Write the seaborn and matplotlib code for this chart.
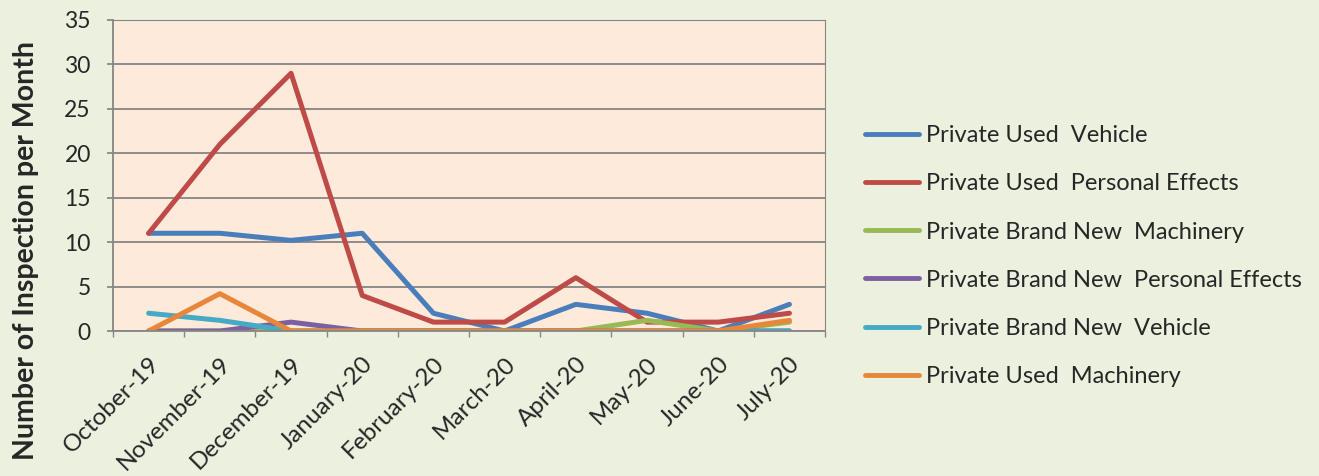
import matplotlib
matplotlib.use("Agg")
import matplotlib.pyplot as plt
import seaborn as sns
import pandas as pd
import numpy as np

months = ["October-19", "November-19", "December-19", "January-20", "February-20",
          "March-20", "April-20", "May-20", "June-20", "July-20"]
used_vehicle = [11, 11, 10.2, 11, 2, 0, 3, 2, 0, 3]
used_personal = [11, 21, 29, 4, 1, 1, 6, 1, 1, 2]
bn_machinery = [0, 0, 0, 0, 0, 0, 0, 1.2, 0, 1]
bn_personal = [0, 0, 1, 0, 0, 0, 0, 0, 0, 0]
bn_vehicle = [2, 1.2, 0, 0, 0, 0, 0, 0, 0, 0]
used_machinery = [0, 4.2, 0, 0, 0, 0, 0, 0, 0, 1.2]

series_names = ["Private Used  Vehicle", "Private Used  Personal Effects",
                "Private Brand New  Machinery", "Private Brand New  Personal Effects",
                "Private Brand New  Vehicle", "Private Used  Machinery"]
series_vals = [used_vehicle, used_personal, bn_machinery, bn_personal, bn_vehicle, used_machinery]
colors = ["#4A7EBB", "#BE4B48", "#98B954", "#7D60A0", "#46AAC5", "#E8863A"]

rows = []
for name, vals in zip(series_names, series_vals):
    for i, (m, v) in enumerate(zip(months, vals)):
        rows.append({"month": m, "idx": i, "value": v, "series": name})
df = pd.DataFrame(rows)

sns.set_theme(style="white")
plt.rcParams['font.family'] = ['Lato', 'DejaVu Sans']

fig = plt.figure(figsize=(13.19, 4.76), dpi=100)
fig.patch.set_facecolor("#EBF1DE")
ax = fig.add_axes([0.0857, 0.3046, 0.5398, 0.6534])
ax.set_facecolor("#FDEADA")

sns.lineplot(data=df, x="idx", y="value", hue="series", hue_order=series_names,
             palette=colors, linewidth=3.6, ax=ax, legend=True, sort=False,
             solid_capstyle="round")

ax.set_xlim(-0.5, 9.5)
ax.set_ylim(0, 35)
ax.set_yticks(np.arange(0, 36, 5))
ax.set_yticklabels([str(v) for v in range(0, 36, 5)], fontsize=16.5)
ax.set_xticks(range(len(months)))
ax.set_xticklabels(months, rotation=45, ha="right", rotation_mode="anchor", fontsize=17.5)
ax.tick_params(axis="x", length=0, pad=16)
ax.tick_params(axis="y", length=4, color="#868686", pad=12, left=True)
ax.set_xticks(np.arange(-0.5, 10, 1), minor=True)
ax.tick_params(axis="x", which="minor", length=4, color="#868686", bottom=True)
ax.grid(axis="y", color="#868686", linewidth=1.3)
ax.set_axisbelow(True)
for s in ["top", "right"]:
    ax.spines[s].set_color("#868686")
    ax.spines[s].set_linewidth(0.8)
for s in ["left", "bottom"]:
    ax.spines[s].set_color("#868686")
    ax.spines[s].set_linewidth(1.3)
ax.set_xlabel("")
ax.set_ylabel("Number of Inspection per Month", fontsize=20.5, fontweight="bold")
ax.yaxis.set_label_coords(-0.104, 0.26)

handles, labels = ax.get_legend_handles_labels()
ax.legend_.remove()
leg = fig.legend(handles, labels, loc="center left", bbox_to_anchor=(0.64, 0.462),
                 frameon=False, fontsize=17, handlelength=2.25, handletextpad=0.3,
                 labelspacing=1.15)
for line in leg.get_lines():
    line.set_linewidth(3.5)

fig.savefig("out.png", dpi=100, facecolor=fig.get_facecolor())
